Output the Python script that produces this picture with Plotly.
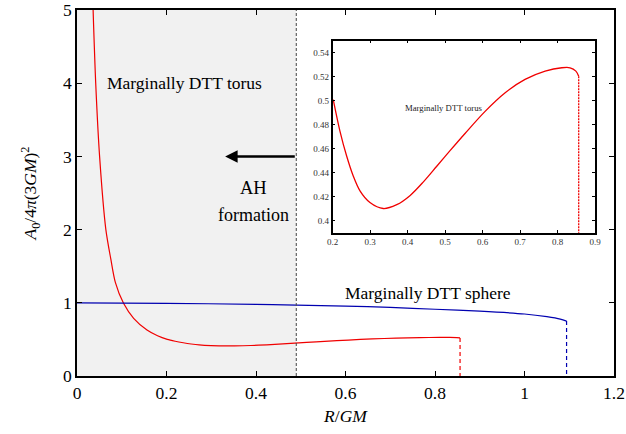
import plotly.graph_objects as go

# Marginally DTT torus: R/GM vs A0/4pi(3GM)^2
R_torus = [0.036, 0.0418, 0.0505, 0.0645, 0.0755, 0.0857, 0.104, 0.1266, 0.1564, 0.18,
           0.2017, 0.2195, 0.2374, 0.255, 0.273, 0.2995, 0.335, 0.371, 0.406, 0.442, 0.4776,
           0.513, 0.553, 0.6065, 0.66, 0.713, 0.7666, 0.811, 0.833, 0.8485, 0.856]
A_torus = [5.0, 4.0, 3.0, 2.0, 1.60, 1.28, 0.993, 0.788, 0.628, 0.55,
           0.501, 0.4748, 0.454, 0.4374, 0.425, 0.4153, 0.4103, 0.4135, 0.421, 0.4325, 0.4455,
           0.4585, 0.4728, 0.4912, 0.5067, 0.5178, 0.5247, 0.5275, 0.5275, 0.5247, 0.5205]

# Marginally DTT sphere
R_sphere = [0.0, 0.2, 0.4, 0.49, 0.6, 0.7, 0.8, 0.9, 1.0, 1.05, 1.08, 1.094]
A_sphere = [1.0, 0.993, 0.978, 0.968, 0.955, 0.937, 0.912, 0.885, 0.847, 0.81, 0.777, 0.75]

AH_R = 0.49  # apparent horizon formation boundary

x_ticks = [0, 0.2, 0.4, 0.6, 0.8, 1, 1.2]
y_ticks = [0, 1, 2, 3, 4, 5]
inset_x_ticks = [0.2, 0.3, 0.4, 0.5, 0.6, 0.7, 0.8, 0.9]
inset_y_ticks = [0.4, 0.42, 0.44, 0.46, 0.48, 0.5, 0.52, 0.54]

RED = "#f00000"
BLUE = "#0000b0"
SERIF = "Liberation Serif"

fig = go.Figure()

# main traces
fig.add_trace(go.Scatter(x=R_torus, y=A_torus, mode="lines",
                         line=dict(color=RED, width=1.2, shape="spline", smoothing=0.8),
                         xaxis="x", yaxis="y", showlegend=False, hoverinfo="skip"))
fig.add_trace(go.Scatter(x=[R_torus[-1], R_torus[-1]], y=[A_torus[-1], 0], mode="lines",
                         line=dict(color=RED, width=1.2, dash="4px,3px"), xaxis="x", yaxis="y", showlegend=False))
fig.add_trace(go.Scatter(x=R_sphere, y=A_sphere, mode="lines",
                         line=dict(color=BLUE, width=1.2, shape="spline", smoothing=0.8),
                         xaxis="x", yaxis="y", showlegend=False))
fig.add_trace(go.Scatter(x=[R_sphere[-1], R_sphere[-1]], y=[A_sphere[-1], 0], mode="lines",
                         line=dict(color=BLUE, width=1.2, dash="4px,3px"), xaxis="x", yaxis="y", showlegend=False))

# inset traces
Ri = [r for r in R_torus if r >= 0.2]
Ai = [a for r, a in zip(R_torus, A_torus) if r >= 0.2]
fig.add_trace(go.Scatter(x=Ri, y=Ai, mode="lines",
                         line=dict(color=RED, width=1.3, shape="spline", smoothing=0.9),
                         xaxis="x2", yaxis="y2", showlegend=False))
fig.add_trace(go.Scatter(x=[R_torus[-1], R_torus[-1]], y=[A_torus[-1], 0.39], mode="lines",
                         line=dict(color=RED, width=1.3, dash="2px,1px"), xaxis="x2", yaxis="y2", showlegend=False))

shapes = [
    dict(type="rect", xref="x", yref="y", x0=0, x1=AH_R, y0=0, y1=5, fillcolor="#f1f1f1",
         line=dict(width=0), layer="below"),
    dict(type="line", xref="x", yref="y", x0=AH_R, x1=AH_R, y0=0, y1=5,
         line=dict(color="#444444", width=1, dash="3px,2px")),
]

annotations = [
    dict(x=0.241, y=4.0, xref="x", yref="y", text="Marginally DTT torus", showarrow=False,
         font=dict(family=SERIF, size=17.5, color="black")),
    dict(x=0.784, y=1.14, xref="x", yref="y", text="Marginally DTT sphere", showarrow=False,
         font=dict(family=SERIF, size=17.5, color="black")),
    dict(x=0.394, y=2.57, xref="x", yref="y", text="AH", showarrow=False,
         font=dict(family=SERIF, size=18.5, color="black")),
    dict(x=0.394, y=2.2, xref="x", yref="y", text="formation", showarrow=False,
         font=dict(family=SERIF, size=18, color="black")),
    dict(x=0.331, y=3.0, xref="x", yref="y", ax=AH_R, ay=3.0, axref="x", ayref="y", text="",
         showarrow=True, arrowhead=2, arrowsize=1, arrowwidth=2.5, arrowcolor="black"),
    dict(x=0.498, y=0.494, xref="x2", yref="y2", text="Marginally DTT torus", showarrow=False,
         font=dict(family=SERIF, size=8.7, color="#222222")),
]

fig.update_layout(
    width=626, height=434,
    margin=dict(l=77, r=12, t=10, b=58, autoexpand=False),
    paper_bgcolor="white", plot_bgcolor="white",
    font=dict(family=SERIF, size=17.5, color="black"),
    shapes=shapes, annotations=annotations,
    xaxis=dict(range=[0, 1.2], tickvals=x_ticks, ticktext=[str(v) for v in x_ticks],
               ticks="inside", ticklen=5, tickwidth=1, tickcolor="black",
               showline=True, linecolor="black", linewidth=1.5, mirror="ticks",
               showgrid=False, zeroline=False, automargin=False,
               tickfont=dict(family=SERIF, size=17.5),
               title=dict(text="<i>R</i>/<i>GM</i>", standoff=8, font=dict(family=SERIF, size=17.5))),
    yaxis=dict(range=[0, 5], tickvals=y_ticks, ticks="inside", ticklen=5, tickwidth=1, tickcolor="black",
               showline=True, linecolor="black", linewidth=1.5, mirror="ticks",
               showgrid=False, zeroline=False, automargin=False,
               tickfont=dict(family=SERIF, size=17.5),
               title=dict(text="<i>A</i><sub>0</sub>/4<i>π</i>(3<i>GM</i>)<sup>2</sup>", standoff=22,
                          font=dict(family=SERIF, size=17.5))),
    xaxis2=dict(domain=[0.476, 0.965], anchor="y2", range=[0.2, 0.9], tickvals=inset_x_ticks,
                ticktext=[str(v) for v in inset_x_ticks],
                ticks="inside", ticklen=3, tickwidth=1, tickcolor="black",
                showline=True, linecolor="black", linewidth=1.5, mirror="ticks",
                showgrid=False, zeroline=False, automargin=False,
                tickfont=dict(family=SERIF, size=9, color="#333333")),
    yaxis2=dict(domain=[0.391, 0.916], anchor="x2", range=[0.39, 0.55], tickvals=inset_y_ticks,
                ticktext=[f"{v:g}" for v in inset_y_ticks],
                ticks="inside", ticklen=3, tickwidth=1, tickcolor="black",
                showline=True, linecolor="black", linewidth=1.5, mirror="ticks",
                showgrid=False, zeroline=False, automargin=False,
                tickfont=dict(family=SERIF, size=9, color="#333333")),
)

fig.write_html("out.html")
